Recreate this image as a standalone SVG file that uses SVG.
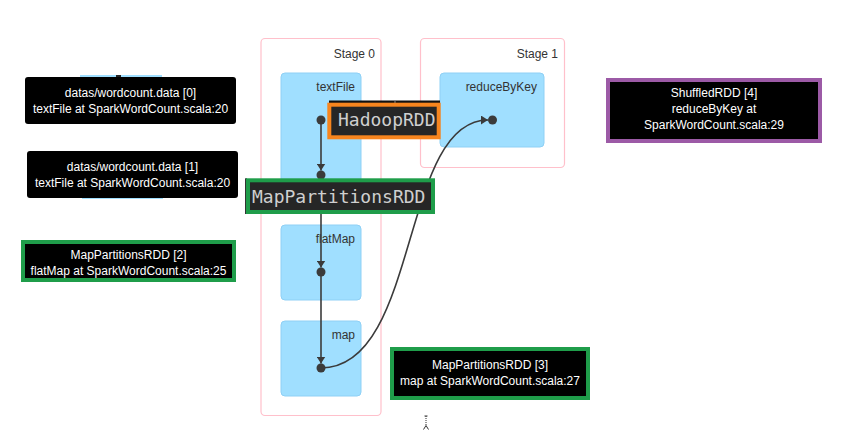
<svg xmlns="http://www.w3.org/2000/svg" width="842" height="431" viewBox="0 0 842 431">
  <style>
    .stage { fill: #ffffff; stroke: #ffc0cb; stroke-width: 1.2; }
    .cluster { fill: #a0dfff; stroke: #8fd0f5; stroke-width: 1; }
    .lbl { font-family: "Liberation Sans", Arial, sans-serif; font-size: 12px; fill: #333333; text-anchor: end; }
    .dot { fill: #3b3b3b; }
    .edge { fill: none; stroke: #3b3b3b; stroke-width: 1.6; }
    .tip { font-family: "Liberation Sans", Arial, sans-serif; font-size: 12px; fill: #ffffff; text-anchor: middle; }
    .tipbox { fill: #000000; }
    .mono { font-family: "DejaVu Sans Mono", "Liberation Mono", monospace; font-size: 18px; fill: #cfcfcf; }
    .monobox { fill: #262626; stroke-width: 4; }
    .remnant { fill: #a0dfff; }
  </style>
  <defs>
    <marker id="arrow" markerUnits="userSpaceOnUse" markerWidth="8" markerHeight="9" refX="7" refY="4.5" orient="auto">
      <path d="M0,0 L7,4.5 L0,9 z" fill="#3b3b3b"/>
    </marker>
  </defs>
  <rect width="842" height="431" fill="#ffffff"/>

  <!-- Stages -->
  <g id="stage0">
    <rect class="stage" x="261" y="38.5" width="120" height="377" rx="4"/>
    <text class="lbl" x="375" y="58">Stage 0</text>
  </g>
  <g id="stage1">
    <rect class="stage" x="420.5" y="38.5" width="144" height="129" rx="4"/>
    <text class="lbl" x="558" y="58">Stage 1</text>
  </g>

  <!-- Clusters -->
  <g id="cluster-textFile">
    <rect class="cluster" x="281" y="73" width="80" height="129" rx="4"/>
    <text class="lbl" x="355" y="91">textFile</text>
  </g>
  <g id="cluster-flatMap">
    <rect class="cluster" x="281" y="225" width="80" height="75" rx="4"/>
    <text class="lbl" x="355" y="243">flatMap</text>
  </g>
  <g id="cluster-map">
    <rect class="cluster" x="281" y="321" width="80" height="75" rx="4"/>
    <text class="lbl" x="355" y="339">map</text>
  </g>
  <g id="cluster-reduceByKey">
    <rect class="cluster" x="440" y="73" width="104" height="74" rx="4"/>
    <text class="lbl" x="537" y="91">reduceByKey</text>
  </g>

  <!-- Connectors -->
  <g id="connectors">
    <line class="edge" x1="321" y1="124" x2="321" y2="170.5" marker-end="url(#arrow)"/>
    <line class="edge" x1="321" y1="179" x2="321" y2="267.5" marker-end="url(#arrow)"/>
    <line class="edge" x1="321" y1="276" x2="321" y2="363.5" marker-end="url(#arrow)"/>
    <path class="edge" d="M321,368 C420,368 400,120 488,120" marker-end="url(#arrow)"/>
  </g>

  <!-- RDD nodes (dots) -->
  <g id="node-0"><circle class="dot" cx="321" cy="120" r="4.5"/></g>
  <g id="node-1"><circle class="dot" cx="321" cy="175" r="4.5"/></g>
  <g id="node-2"><circle class="dot" cx="321" cy="272" r="4.5"/></g>
  <g id="node-3"><circle class="dot" cx="321" cy="368" r="4.5"/></g>
  <g id="node-4"><circle class="dot" cx="492.5" cy="120" r="4.5"/></g>

  <!-- faint tooltip remnants -->
  <rect class="remnant" x="80" y="75" width="36" height="3"/>
  <rect x="116" y="75" width="5" height="3" fill="#222222"/>
  <rect class="remnant" x="121" y="75" width="41" height="3"/>
  <rect class="remnant" x="82" y="196" width="81" height="3"/>

  <!-- Tooltips -->
  <g id="tip-0">
    <rect class="tipbox" x="25" y="77" width="211" height="47" rx="3"/>
    <text class="tip" x="130.5" y="97">datas/wordcount.data [0]</text>
    <text class="tip" x="130.5" y="113">textFile at SparkWordCount.scala:20</text>
  </g>
  <g id="tip-1">
    <rect class="tipbox" x="27" y="151" width="211" height="47" rx="3"/>
    <text class="tip" x="132.5" y="171">datas/wordcount.data [1]</text>
    <text class="tip" x="132.5" y="187">textFile at SparkWordCount.scala:20</text>
  </g>
  <g id="tip-2">
    <rect class="tipbox" x="23" y="242" width="211" height="38" stroke="#1f9d4a" stroke-width="4"/>
    <text class="tip" x="128.5" y="259">MapPartitionsRDD [2]</text>
    <text class="tip" x="128.5" y="275">flatMap at SparkWordCount.scala:25</text>
  </g>
  <g id="tip-3">
    <rect class="tipbox" x="392" y="349" width="196" height="49" stroke="#1f9d4a" stroke-width="4"/>
    <text class="tip" x="490" y="369">MapPartitionsRDD [3]</text>
    <text class="tip" x="490" y="385">map at SparkWordCount.scala:27</text>
  </g>
  <g id="tip-4">
    <rect class="tipbox" x="608" y="80" width="212" height="61" stroke="#9c5aa6" stroke-width="4"/>
    <text class="tip" x="714" y="97">ShuffledRDD [4]</text>
    <text class="tip" x="714" y="113">reduceByKey at</text>
    <text class="tip" x="714" y="129">SparkWordCount.scala:29</text>
  </g>

  <!-- Highlight labels -->
  <g id="label-HadoopRDD">
    <rect x="329" y="100.5" width="111" height="5" fill="#111111"/>
    <line x1="395" y1="100.5" x2="395" y2="105" stroke="#888888" stroke-width="1"/>
    <rect class="monobox" x="329.3" y="104.7" width="109.4" height="32.6" stroke="#f7851e"/>
    <text class="mono" x="338" y="126">HadoopRDD</text>
  </g>
  <g id="label-MapPartitionsRDD">
    <rect x="245" y="178.3" width="2" height="35.7" fill="#333333"/>
    <rect class="monobox" x="248" y="180.3" width="185" height="31.7" stroke="#1f9d4a"/>
    <text class="mono" x="252" y="202.5">MapPartitionsRDD</text>
  </g>

  <!-- cursor -->
  <g id="cursor" stroke="#333333" stroke-width="1" fill="none">
    <line x1="426" y1="416" x2="426" y2="426" stroke-dasharray="1,1"/>
    <line x1="424.5" y1="416" x2="427.5" y2="416"/>
    <path d="M423.5,429.5 L426,425.5 L428.5,429.5"/>
  </g>
</svg>
